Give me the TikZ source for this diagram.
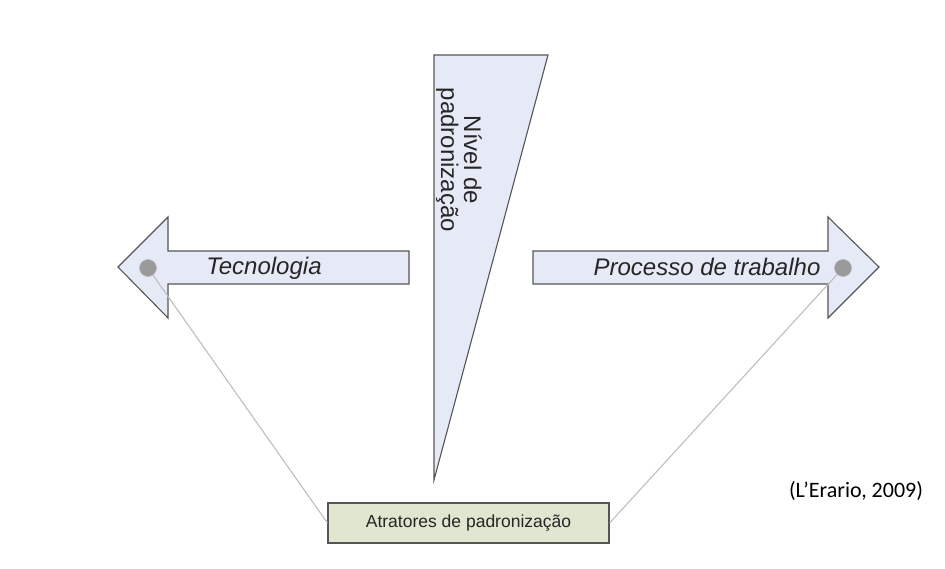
\documentclass[tikz,border=0pt]{standalone}
\usepackage{fontspec}
\setmainfont{Liberation Sans}
\newfontfamily\citefont{Carlito}
\definecolor{arrowfill}{HTML}{E6EAF6}
\definecolor{edgegray}{HTML}{555555}
\definecolor{boxfill}{HTML}{E0E6CF}
\definecolor{dotfill}{HTML}{9A9A9A}
\definecolor{linkgray}{HTML}{BEBEBE}
\tikzset{
  shapeedge/.style={draw=edgegray, fill=arrowfill, line width=1.1pt, line join=miter},
  dotnode/.style={circle, fill=dotfill, draw=dotfill!70!white, line width=0.6pt, minimum size=17pt, inner sep=0pt},
  linkline/.style={draw=linkgray, line width=1.1pt},
  arrowlabel/.style={font=\fontsize{24}{27}\selectfont\itshape, text=black!85, inner sep=0pt},
  attractor/.style={draw=edgegray, fill=boxfill, line width=1.1pt, minimum width=281pt, minimum height=40pt, inner sep=0pt,
      font=\fontsize{17.5}{20}\selectfont, text=black!85},
}
\begin{document}
\begin{tikzpicture}[x=1pt,y=-1pt]
\useasboundingbox (0,0) rectangle (945,568);
% left arrow
\path[shapeedge] (118,267) -- (168,217) -- (168,251) -- (409,251) -- (409,284) -- (168,284) -- (168,318) -- cycle;
% right arrow
\path[shapeedge] (879,267) -- (828,217) -- (828,251) -- (533,251) -- (533,284) -- (828,284) -- (828,318) -- cycle;
% triangle
\path[shapeedge] (434,55) -- (548,55) -- (434,480) -- cycle;
% nodes
\node[attractor] (box) at (468.5,523) {Atratores de padronização};
\node[dotnode] (dl) at (148,268) {};
\node[dotnode] (dr) at (843,268) {};
\path[linkline] (dl) -- (box.west);
\path[linkline] (dr) -- (box.east);
% labels
\node[arrowlabel] (tec) at (264,268) {Tecnologia};
\node[arrowlabel] (proc) at (707,267) {Processo de trabalho};
\node[rotate=-90, align=center, font=\fontsize{24}{23}\selectfont, text=black!85, inner sep=0pt] (nivel) at (459,160) {Nível de\\padronização};
\node[font=\citefont\fontsize{22}{24}\selectfont, inner sep=0pt] (cite) at (856,491) {(L’Erario, 2009)};
\end{tikzpicture}
\end{document}
